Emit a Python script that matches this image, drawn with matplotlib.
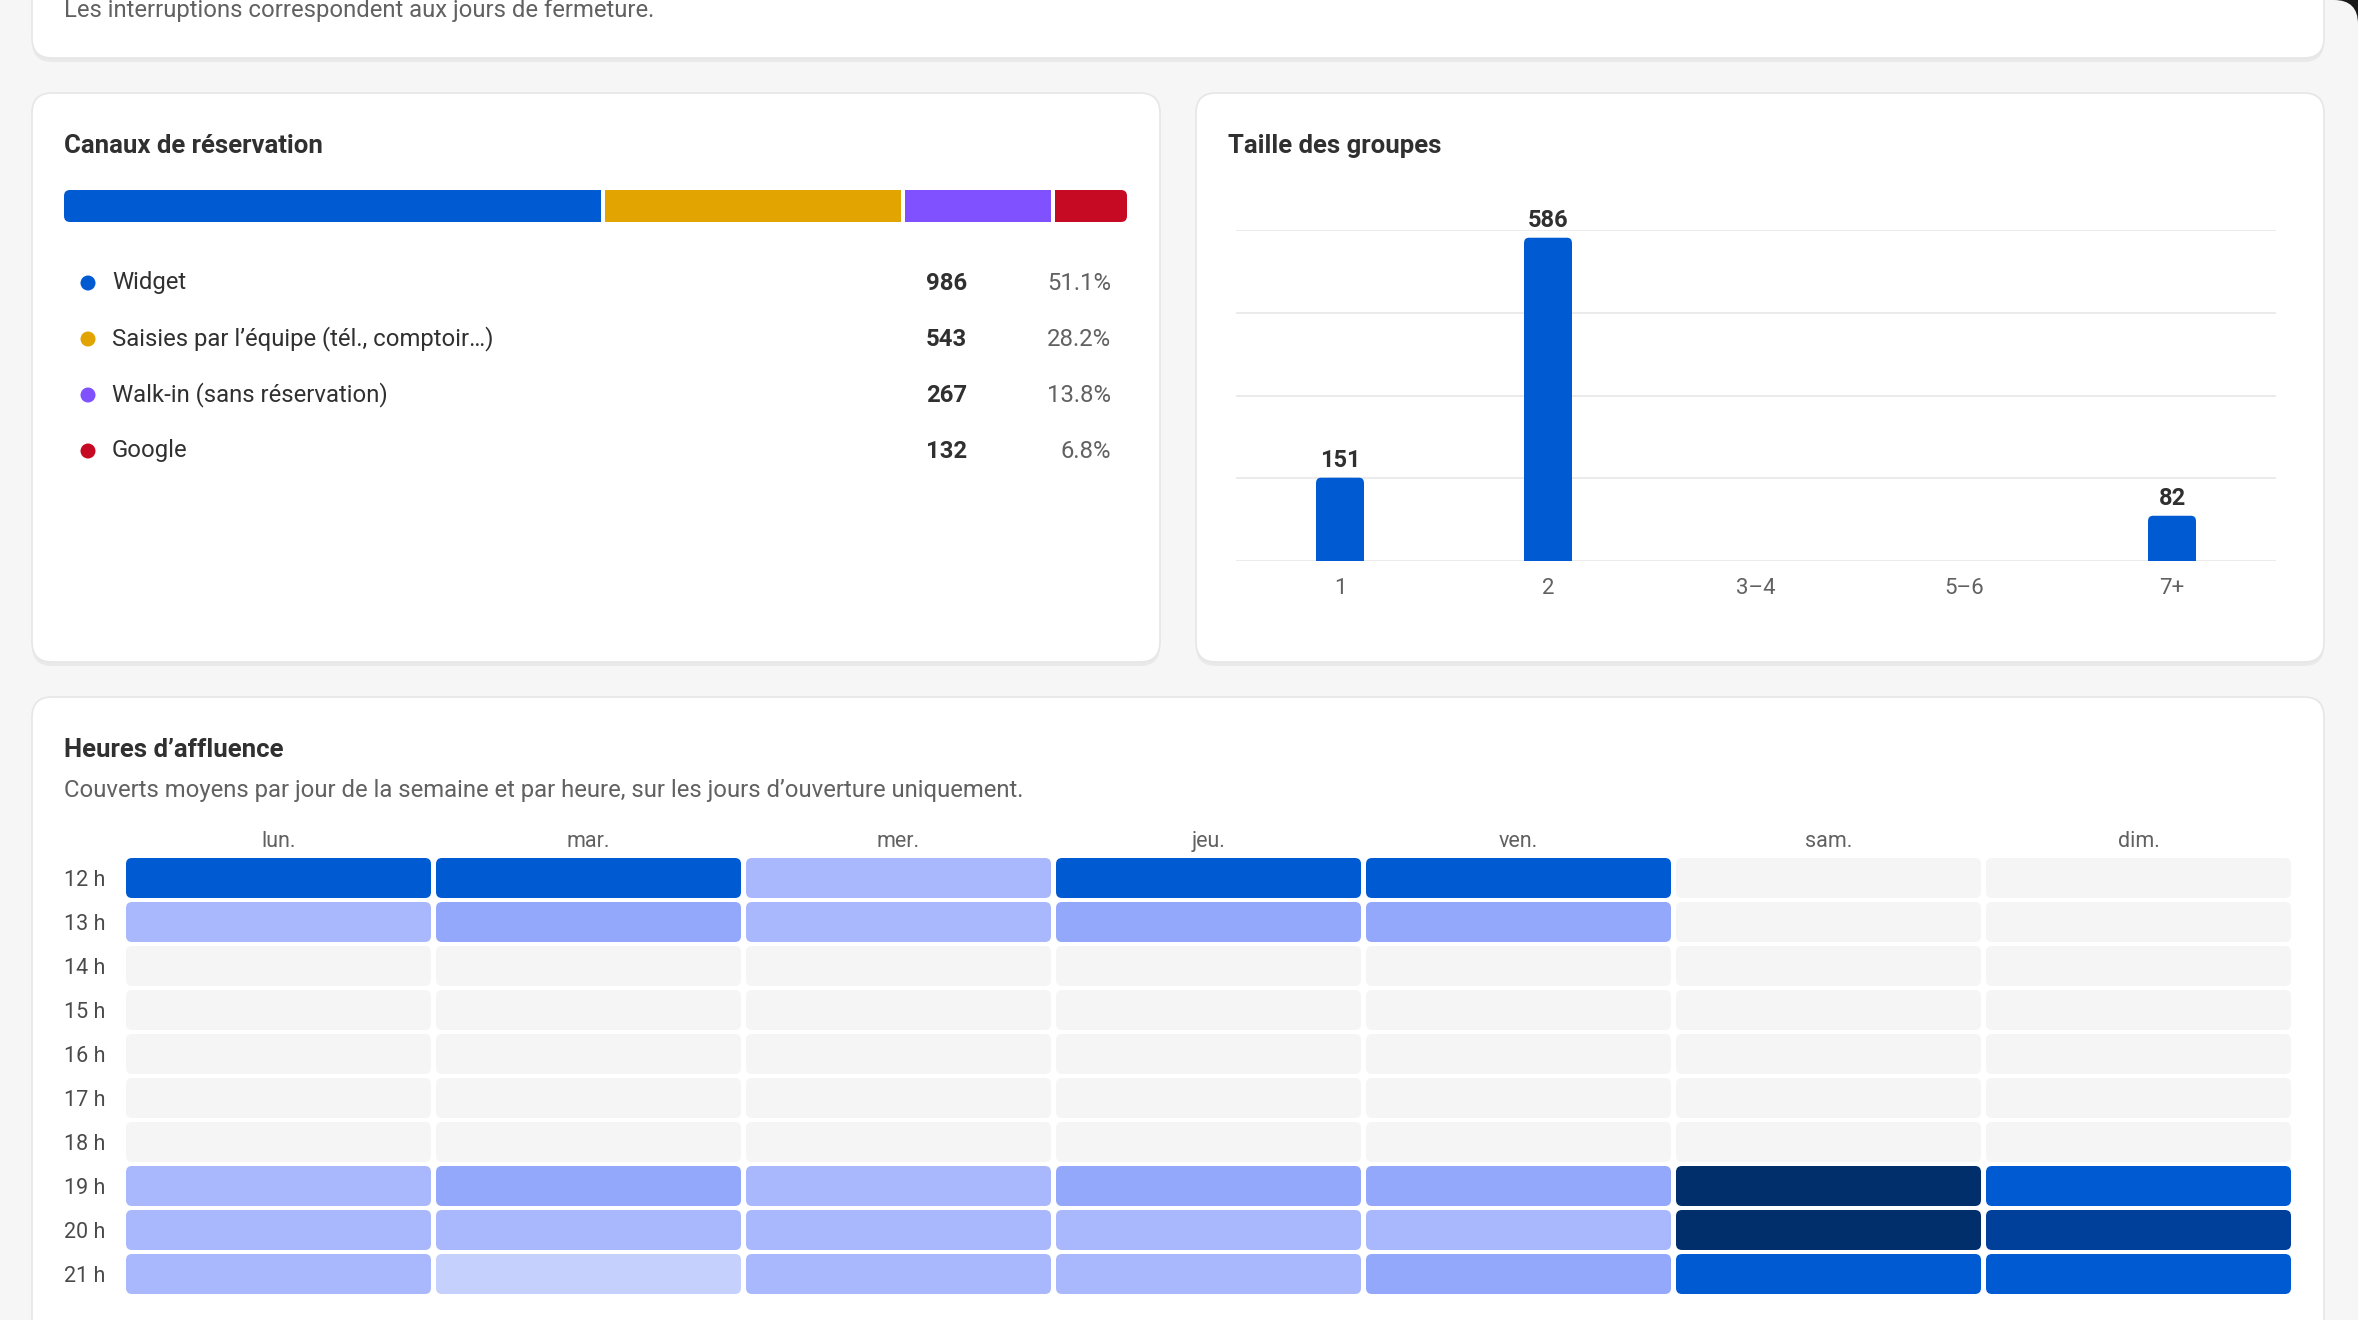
import matplotlib
matplotlib.use('Agg')
import matplotlib.pyplot as plt
from matplotlib.patches import FancyBboxPatch, Circle
import numpy as np

plt.rcParams['font.family'] = ['Roboto', 'DejaVu Sans']

# Canaux de réservation
channel_names = ['Widget', 'Saisies par l\u2019équipe (tél., comptoir\u2026)', 'Walk-in (sans réservation)', 'Google']
channel_counts = [986, 543, 267, 132]
channel_pcts = ['51.1%', '28.2%', '13.8%', '6.8%']
channel_colors = ['#005bd3', '#e2a400', '#8051ff', '#c70a24']

# Taille des groupes
group_labels = ['1', '2', '3\u20134', '5\u20136', '7+']
group_counts = [151, 586, 0, 0, 82]

# Heures d'affluence (couverts moyens)
days = ['lun.', 'mar.', 'mer.', 'jeu.', 'ven.', 'sam.', 'dim.']
hours = ['12 h', '13 h', '14 h', '15 h', '16 h', '17 h', '18 h', '19 h', '20 h', '21 h']
covers = np.array([
    [11.2, 10.8, 4.1, 12.5, 11.9, 0.0, 0.0],
    [4.3, 6.2, 3.8, 5.9, 6.4, 0.0, 0.0],
    [0, 0, 0, 0, 0, 0, 0],
    [0, 0, 0, 0, 0, 0, 0],
    [0, 0, 0, 0, 0, 0, 0],
    [0, 0, 0, 0, 0, 0, 0],
    [0, 0, 0, 0, 0, 0, 0],
    [4.5, 6.6, 4.2, 6.1, 5.8, 21.3, 12.4],
    [4.8, 4.4, 4.6, 4.2, 3.9, 22.7, 16.5],
    [3.9, 2.4, 3.6, 4.0, 5.6, 12.9, 11.7],
])
level_edges = [0.05, 3, 5.5, 8, 14, 19]
level_colors = ['#f5f5f5', '#c5d0fd', '#a9b8fc', '#93a8fb', '#005bd3', '#00409a', '#002f6b']

W, H = 2358, 1320
fig = plt.figure(figsize=(W / 100, H / 100), dpi=100)
fig.patch.set_facecolor('#1a1a1a')

# background axes in pixel units
bg = fig.add_axes([0, 0, 1, 1])
bg.set_xlim(0, W)
bg.set_ylim(H, 0)
bg.axis('off')
bg.add_patch(FancyBboxPatch((-200, 0), W + 200, H + 200, boxstyle='round,pad=0,rounding_size=24',
                            fc='#f6f6f6', ec='none'))

TXT = '#303030'
SUB = '#616161'


def card(x0, y0, x1, y1):
    bg.add_patch(FancyBboxPatch((x0, y0 + 4), x1 - x0, y1 - y0, boxstyle='round,pad=0,rounding_size=20',
                                fc='#000000', ec='none', alpha=0.05))
    bg.add_patch(FancyBboxPatch((x0, y0), x1 - x0, y1 - y0, boxstyle='round,pad=0,rounding_size=20',
                                fc='white', ec='#e6e6e6', lw=1.2))


def px2fig(x0, y0, x1, y1):
    return [x0 / W, 1 - y1 / H, (x1 - x0) / W, (y1 - y0) / H]


card(32, -60, 2324, 58)
card(32, 93, 1160, 662)
card(1196, 93, 2324, 662)
card(32, 697, 2324, 1400)

bg.text(64, 11, 'Les interruptions correspondent aux jours de fermeture.', fontsize=17.2, color=SUB, va='center')

# ---- Canaux de réservation
bg.text(64, 146, 'Canaux de réservation', fontsize=18.5, fontweight='bold', color=TXT, va='center')

ax_s = fig.add_axes(px2fig(64, 190, 1127, 222))
total = sum(channel_counts)
gap = 4 / 1063 * total
scale = (total - gap * (len(channel_counts) - 1)) / total
widths = np.array(channel_counts) * scale
lefts = np.concatenate([[0], np.cumsum(widths)[:-1]]) + gap * np.arange(len(channel_counts))
clip = FancyBboxPatch((0, 0), 1, 1, boxstyle='round,pad=0,rounding_size=%f' % (6 / 1063),
                      mutation_aspect=1063 / 32, transform=ax_s.transAxes, fc='none', ec='none')
bars = ax_s.barh(0, widths, left=lefts, height=1, color=channel_colors)
for b in bars:
    b.set_clip_path(clip)
ax_s.set_xlim(0, total)
ax_s.set_ylim(-0.5, 0.5)
ax_s.axis('off')

row_y = [283, 339, 395, 451]
for name, n, p, c, y in zip(channel_names, channel_counts, channel_pcts, channel_colors, row_y):
    bg.add_patch(Circle((88, y), 7.5, fc=c, ec='none'))
    bg.text(112, y, name, fontsize=17.2, color=TXT, va='center')
    bg.text(967, y, str(n), fontsize=17.2, fontweight='bold', color=TXT, va='center', ha='right')
    bg.text(1111, y, p, fontsize=17.2, color=SUB, va='center', ha='right')

# ---- Taille des groupes
bg.text(1228, 146, 'Taille des groupes', fontsize=18.5, fontweight='bold', color=TXT, va='center')

ax_b = fig.add_axes(px2fig(1236, 230, 2276, 561))
x = np.arange(len(group_labels))
bars_g = ax_b.bar(x, group_counts, width=0.23, color='#005bd3', zorder=3)
# rounded top corners: a rounded box whose lower part is hidden by the square bar
for b in bars_g:
    if b.get_height() > 0:
        ax_b.add_patch(FancyBboxPatch((b.get_x(), b.get_height() * 0.5), b.get_width(), b.get_height() * 0.5,
                                      boxstyle='round,pad=0,rounding_size=%f' % (5 / 208),
                                      mutation_aspect=(600 / 331) / (1 / 208), fc='#005bd3', ec='none',
                                      zorder=3))
        b.set_height(b.get_height() - 5 * 600 / 331)
for xi, v in zip(x, group_counts):
    if v > 0:
        ax_b.annotate(str(v), (xi, v), xytext=(0, 4), textcoords='offset points', ha='center', va='bottom',
                      fontsize=17, fontweight='bold', color=TXT)
ax_b.set_xlim(-0.5, len(group_labels) - 0.5)
ax_b.set_ylim(0, 600)
ax_b.set_yticks([0, 150, 300, 450, 600])
ax_b.set_yticklabels([])
ax_b.set_xticks(x)
ax_b.set_xticklabels(group_labels, fontsize=16, color=SUB)
ax_b.tick_params(length=0, pad=12)
ax_b.grid(axis='y', color='#ebebeb', lw=1.4, zorder=0)
for s in ax_b.spines.values():
    s.set_visible(False)
ax_b.set_facecolor('none')

# ---- Heures d'affluence
bg.text(64, 750, 'Heures d\u2019affluence', fontsize=18.5, fontweight='bold', color=TXT, va='center')
bg.text(64, 791, 'Couverts moyens par jour de la semaine et par heure, sur les jours d\u2019ouverture uniquement.',
        fontsize=17.2, color=SUB, va='center')

ax_h = fig.add_axes(px2fig(126, 858, 2296, 1298))
ax_h.set_xlim(0, len(days))
ax_h.set_ylim(len(hours), 0)
cw = 1 - 5 / 310
ch = 1 - 4 / 44
levels = np.digitize(covers, level_edges)
for i in range(len(hours)):
    for j in range(len(days)):
        ax_h.add_patch(FancyBboxPatch((j, i), cw, ch, boxstyle='round,pad=0,rounding_size=%f' % (6 / 310),
                                      mutation_aspect=310 / 44, fc=level_colors[levels[i, j]], ec='none'))
ax_h.set_xticks(np.arange(len(days)) + cw / 2)
ax_h.set_xticklabels(days, fontsize=15.5, color=SUB)
ax_h.set_yticks(np.arange(len(hours)) + ch / 2)
ax_h.set_yticklabels(hours, fontsize=15.5, color='#4a4a4a')
ax_h.tick_params(axis='x', top=True, labeltop=True, bottom=False, labelbottom=False, length=0, pad=4)
ax_h.tick_params(axis='y', length=0, pad=44.6)
for lab in ax_h.get_yticklabels():
    lab.set_ha('left')
for s in ax_h.spines.values():
    s.set_visible(False)
ax_h.set_facecolor('none')

plt.savefig('out.png', dpi=100, facecolor=fig.get_facecolor())
